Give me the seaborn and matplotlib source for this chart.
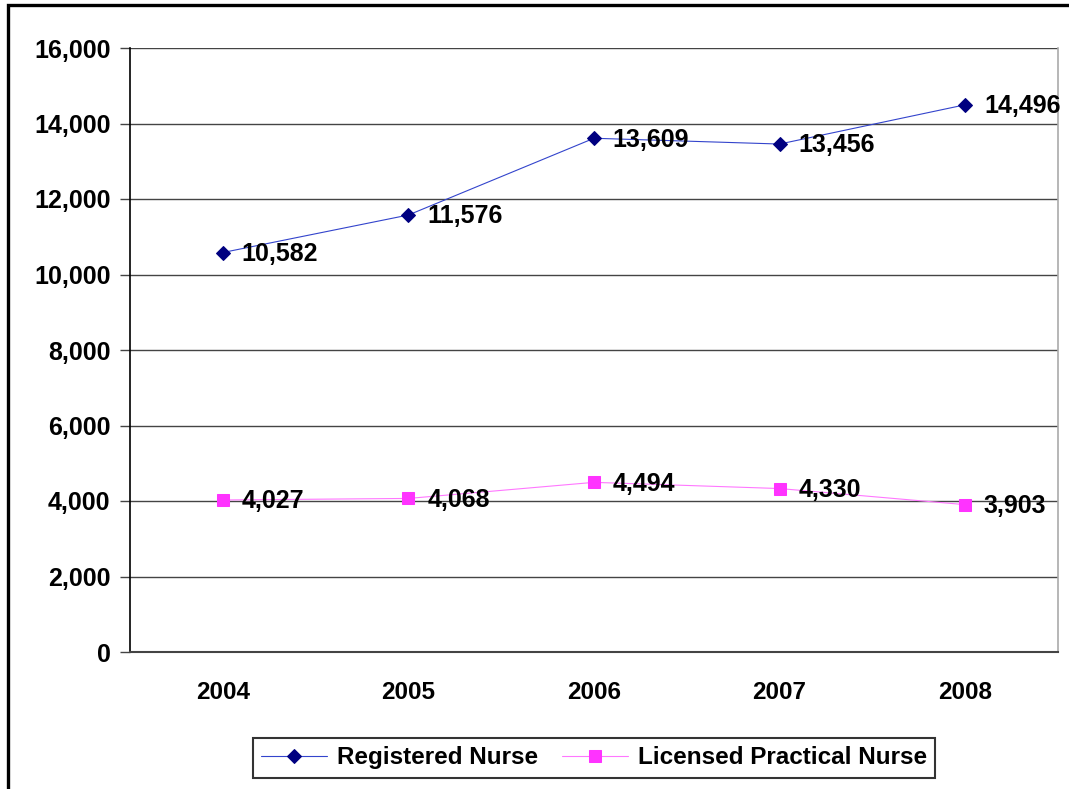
import numpy as np
import pandas as pd
import matplotlib.pyplot as plt
import seaborn as sns
from matplotlib.patches import Rectangle
from matplotlib.ticker import FuncFormatter

# data
years = ["2004", "2005", "2006", "2007", "2008"]
registered = [10582, 11576, 13609, 13456, 14496]
licensed = [4027, 4068, 4494, 4330, 3903]
series_names = ["Registered Nurse", "Licensed Practical Nurse"]

sns.set_style("white")
plt.rcParams['font.family'] = ['Liberation Sans', 'DejaVu Sans']
plt.rcParams['font.weight'] = 'bold'
plt.rcParams['text.color'] = 'black'
plt.rcParams['xtick.color'] = 'black'
plt.rcParams['ytick.color'] = 'black'

df = pd.DataFrame({
    "year": years * 2,
    "x": list(range(len(years))) * 2,
    "value": registered + licensed,
    "series": [series_names[0]] * len(years) + [series_names[1]] * len(years),
})

fig = plt.figure(figsize=(10.69, 7.89), dpi=100)
ax = fig.add_axes([130 / 1069, 1 - 652 / 789, 928 / 1069, 604 / 789])

# outer chart border (only left and top edges visible, rest is cropped)
fig.patches.append(Rectangle((8 / 1069, -0.05), 1.1, 1 + 0.05 - 5 / 789,
                             transform=fig.transFigure, fill=False,
                             edgecolor="black", linewidth=2.4))

line_colors = {series_names[0]: "#3344cc", series_names[1]: "#ff77ff"}
marker_colors = {series_names[0]: "#000080", series_names[1]: "#ff33ff"}
markers = {series_names[0]: "D", series_names[1]: "s"}
msize = {series_names[0]: 7, series_names[1]: 8}

for name in series_names:
    sub = df[df["series"] == name]
    sns.lineplot(data=sub, x="x", y="value", ax=ax, color=line_colors[name],
                 linewidth=0.8, marker=markers[name], markersize=msize[name],
                 markerfacecolor=marker_colors[name],
                 markeredgecolor=marker_colors[name], label=name)
    for xv, yv in zip(sub["x"], sub["value"]):
        ax.annotate(f"{yv:,}", (xv, yv), xytext=(13.5, -1), textcoords="offset points",
                    ha="left", va="center", fontsize=18, fontweight="bold",
                    color="black")

ax.set_xlim(-0.5, len(years) - 0.5)
ax.set_ylim(0, 16000)
ax.set_yticks(np.arange(0, 16001, 2000))
ax.yaxis.set_major_formatter(FuncFormatter(lambda v, p: f"{int(v):,}"))
ax.grid(axis="y", color="#444444", linewidth=1.0)
ax.set_axisbelow(True)

ax.set_xticks(range(len(years)))
ax.set_xticklabels(years)
ax.set_xticks(np.arange(-0.5, len(years), 1.0), minor=True)
ax.tick_params(axis="x", which="major", length=0, pad=21, labelsize=17.5)
ax.tick_params(axis="x", which="minor", length=7, width=1, color="#444444", direction="out")
ax.tick_params(axis="y", length=7, width=1, color="#444444", direction="out",
               labelsize=18, pad=7, left=True)
for lab in ax.get_xticklabels() + ax.get_yticklabels():
    lab.set_fontweight("bold")

ax.set_xlabel("")
ax.set_ylabel("")
ax.spines["top"].set_visible(False)
ax.spines["left"].set_color("black")
ax.spines["left"].set_linewidth(1.2)
ax.spines["bottom"].set_color("#444444")
ax.spines["bottom"].set_linewidth(1.5)
ax.spines["right"].set_color("#aaaaaa")
ax.spines["right"].set_linewidth(1.2)

leg = ax.legend(loc="center", bbox_to_anchor=(0.5, -0.175), ncol=2, frameon=True,
                fancybox=False, edgecolor="black", fontsize=17.5, handlelength=2.7,
                columnspacing=1.0, borderpad=0.35, handletextpad=0.4)
leg.get_frame().set_linewidth(1.5)
for t in leg.get_texts():
    t.set_fontweight("bold")

fig.savefig("out.png", dpi=100)
